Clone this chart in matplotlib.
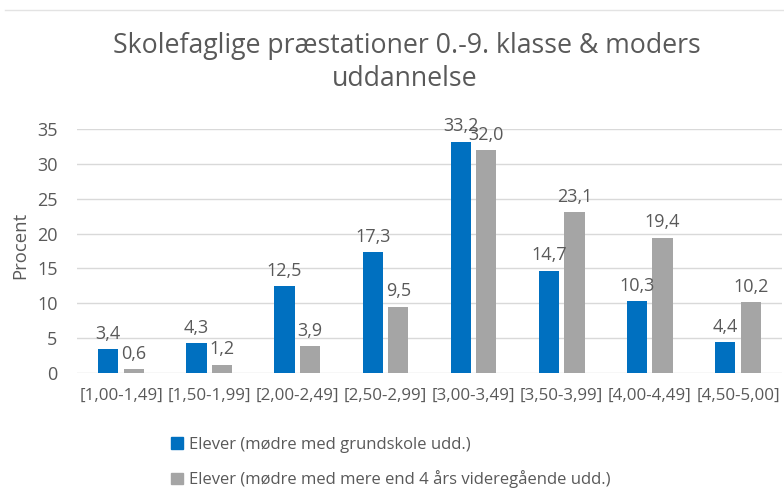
import numpy as np
import matplotlib
matplotlib.use("Agg")
import matplotlib.pyplot as plt
from matplotlib.lines import Line2D
from matplotlib.patches import Patch

categories = ["[1,00-1,49]", "[1,50-1,99]", "[2,00-2,49]", "[2,50-2,99]",
              "[3,00-3,49]", "[3,50-3,99]", "[4,00-4,49]", "[4,50-5,00]"]
grundskole = [3.4, 4.3, 12.5, 17.3, 33.2, 14.7, 10.3, 4.4]
videregaaende = [0.6, 1.2, 3.9, 9.5, 32.0, 23.1, 19.4, 10.2]
series_names = ["Elever (mødre med grundskole udd.)",
                "Elever (mødre med mere end 4 års videregående udd.)"]

blue = "#0070C0"
grey = "#A5A5A5"
txt = "#595959"

plt.rcParams["font.family"] = ["Open Sans", "DejaVu Sans"]

W, H = 784, 490
fig = plt.figure(figsize=(W / 100, H / 100), dpi=100)
ax = fig.add_axes([77 / W, 1 - 373 / H, (782 - 77) / W, (373 - 129) / H])

x = np.arange(len(categories))
bw = 0.23
gap = 0.03
b1 = ax.bar(x - bw / 2 - gap, grundskole, bw, color=blue)
b2 = ax.bar(x + bw / 2 + gap, videregaaende, bw, color=grey)

for bars, vals in ((b1, grundskole), (b2, videregaaende)):
    for rect, v in zip(bars, vals):
        ax.text(rect.get_x() + rect.get_width() / 2, v + 0.9,
                f"{v:.1f}".replace(".", ","), ha="center", va="bottom",
                fontsize=13, color=txt)

ax.set_xlim(-0.5, len(categories) - 0.5)
ax.set_ylim(0, 35)
ax.set_yticks(range(0, 36, 5))
ax.set_xticks(x)
ax.set_xticklabels(categories)
ax.tick_params(axis="both", length=0, colors=txt)
ax.tick_params(axis="x", pad=11, labelsize=12.2)
ax.tick_params(axis="y", pad=14, labelsize=13)
ax.yaxis.grid(True, color="#D9D9D9", linewidth=1)
ax.set_axisbelow(True)
for s in ax.spines.values():
    s.set_visible(False)
ax.set_ylabel("Procent", fontsize=13.3, color=txt)
ax.yaxis.set_label_coords(29 / W, 0.5, transform=fig.transFigure)

fig.text(407 / W, 1 - 46 / H, "Skolefaglige præstationer 0.-9. klasse & moders",
         ha="center", va="center", fontsize=19.2, color=txt)
fig.text(405 / W, 1 - 79 / H, "uddannelse",
         ha="center", va="center", fontsize=19.2, color=txt)

# thin frame line along the top edge
fig.add_artist(Line2D([5 / W, 1], [1 - 10 / H, 1 - 10 / H],
                      color="#E3E3E3", linewidth=1))

handles = [Patch(color=blue), Patch(color=grey)]
fig.legend(handles, series_names, loc="upper left",
           bbox_to_anchor=(156 / W, 1 - 422 / H), frameon=False,
           fontsize=12.0, labelcolor=txt, ncol=1, handlelength=0.7,
           handleheight=0.7, handletextpad=0.4, labelspacing=1.05)

fig.savefig("out.png", dpi=100)
